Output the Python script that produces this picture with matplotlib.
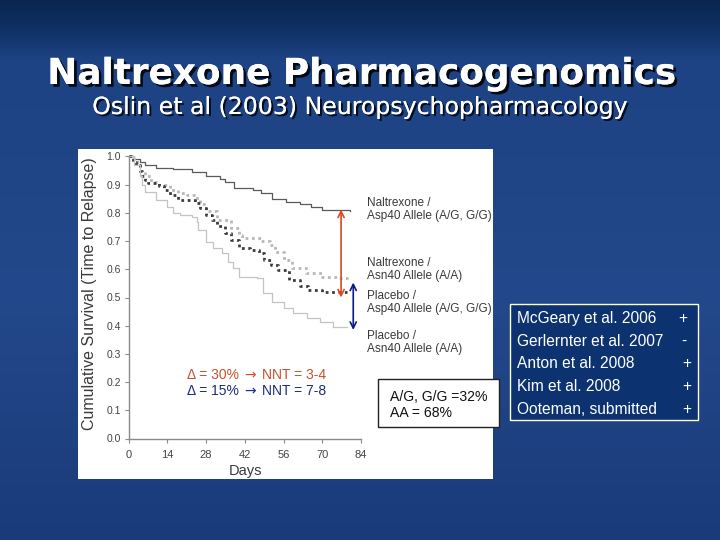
import matplotlib
matplotlib.use('Agg')
import matplotlib.pyplot as plt
import matplotlib.patheffects as pe
from matplotlib.patches import Rectangle
import numpy as np

# ---------------- data ----------------
day_ticks = [0, 14, 28, 42, 56, 70, 84]
surv_ticks = [0.0, 0.1, 0.2, 0.3, 0.4, 0.5, 0.6, 0.7, 0.8, 0.9, 1.0]

nal_asp40_days = [0, 2, 4, 6, 10, 16, 23, 28, 33, 35, 38, 45, 48, 52, 57, 62, 66, 70, 80]
nal_asp40_surv = [1.0, 0.99, 0.98, 0.97, 0.96, 0.955, 0.946, 0.93, 0.92, 0.91, 0.89, 0.88,
                  0.87, 0.85, 0.84, 0.83, 0.82, 0.81, 0.805]

nal_asn40_days = [0, 2, 4, 6, 8, 11, 15, 18, 21, 24, 26, 28, 32, 37, 40, 41, 48, 51, 53,
                  56, 59, 64, 70, 76, 79]
nal_asn40_surv = [1.0, 0.98, 0.95, 0.93, 0.91, 0.90, 0.88, 0.87, 0.865, 0.853, 0.83, 0.806,
                  0.776, 0.746, 0.72, 0.711, 0.70, 0.687, 0.66, 0.633, 0.605, 0.586, 0.574,
                  0.569, 0.565]

pla_asp40_days = [0, 1.5, 2.7, 4, 5, 6, 7, 11, 13, 15, 18, 22, 24, 26, 28, 30, 32, 35, 37,
                  40, 44, 47, 49, 51.5, 54, 58, 62, 65, 70, 79]
pla_asp40_surv = [1.0, 0.98, 0.97, 0.95, 0.93, 0.915, 0.905, 0.895, 0.882, 0.865, 0.847,
                  0.845, 0.835, 0.817, 0.794, 0.776, 0.753, 0.729, 0.705, 0.675, 0.668,
                  0.658, 0.634, 0.616, 0.599, 0.562, 0.54, 0.527, 0.52, 0.518]

pla_asn40_days = [0, 2, 4, 5, 6, 10, 14, 16, 18.6, 23, 24.8, 25, 28, 30.6, 33.8, 36, 37.8,
                  40, 46.5, 48.7, 52, 56, 59.5, 64.6, 69.3, 74, 79]
pla_asn40_surv = [1.0, 0.97, 0.93, 0.90, 0.875, 0.846, 0.822, 0.80, 0.793, 0.787, 0.769,
                  0.739, 0.698, 0.675, 0.658, 0.627, 0.605, 0.574, 0.569, 0.516, 0.485,
                  0.463, 0.445, 0.427, 0.414, 0.396, 0.395]

curve_labels = ["Naltrexone /\nAsp40 Allele (A/G, G/G)",
                "Naltrexone /\nAsn40 Allele (A/A)",
                "Placebo /\nAsp40 Allele (A/G, G/G)",
                "Placebo /\nAsn40 Allele (A/A)"]

nnt_deltas = ["Δ = 30%", "Δ = 15%"]
nnt_values = ["NNT = 3-4", "NNT = 7-8"]

studies = ["McGeary et al. 2006", "Gerlernter et al. 2007", "Anton et al. 2008",
           "Kim et al. 2008", "Ooteman, submitted"]
study_signs = ["+", "-", "+", "+", "+"]

# ---------------- layout helpers ----------------
W, H = 720, 540
def fx(x): return x / W
def fy(y): return 1 - y / H

fig = plt.figure(figsize=(7.2, 5.4), dpi=100)

# background gradient
bg = fig.add_axes([0, 0, 1, 1], zorder=-10)
stops_y = [0, 25, 60, 300, 540]
stops_c = ['#0a2650', '#0e2f62', '#1e4384', '#23488b', '#1a3b7a']
rgb = np.array([matplotlib.colors.to_rgb(c) for c in stops_c])
yy = np.arange(H)
grad = np.stack([np.interp(yy, stops_y, rgb[:, k]) for k in range(3)], axis=-1)
grad = np.repeat(grad[:, None, :], 4, axis=1)
bg.imshow(grad, aspect='auto', extent=[0, 1, 0, 1], interpolation='bilinear')
bg.set_axis_off()

# white chart panel
fig.add_artist(Rectangle((fx(78), fy(479)), (493 - 78) / W, (479 - 149) / H,
                         transform=fig.transFigure, facecolor='white',
                         edgecolor='none', zorder=-5))

# title
shadow = [pe.withSimplePatchShadow(offset=(2, -2), shadow_rgbFace='black', alpha=0.85),
          pe.Normal()]
fig.text(fx(362), fy(74), "Naltrexone Pharmacogenomics", ha='center', va='center',
         color='white', fontsize=25.8, fontweight='bold', family='DejaVu Sans',
         path_effects=shadow)
fig.text(fx(360), fy(107), "Oslin et al (2003) Neuropsychopharmacology", ha='center',
         va='center', color='white', fontsize=17, family='DejaVu Sans',
         path_effects=[pe.withSimplePatchShadow(offset=(1.5, -1.5), shadow_rgbFace='black',
                                                alpha=0.8), pe.Normal()])

# main axes
ax = fig.add_axes([fx(128.5), fy(438.5), (361 - 128.5) / W, (438.5 - 156.5) / H])
ax.set_facecolor('none')
ax.set_xlim(0, 84)
ax.set_ylim(0, 1.0)
for s in ['top', 'right']:
    ax.spines[s].set_visible(False)
for s in ['left', 'bottom']:
    ax.spines[s].set_color('#8a8a8a')
    ax.spines[s].set_linewidth(1.0)
ax.set_xticks(day_ticks)
ax.set_yticks(surv_ticks)
ax.set_yticklabels([f"{v:.1f}" for v in surv_ticks])
ax.tick_params(axis='both', colors='#8a8a8a', length=3, width=0.8, labelcolor='#444444')
ax.tick_params(axis='y', labelsize=7.5, pad=2.5)
ax.tick_params(axis='x', labelsize=8, pad=5)
for lab in ax.get_xticklabels() + ax.get_yticklabels():
    lab.set_family('Liberation Sans')

fig.text(fx(90), fy(294), "Cumulative Survival (Time to Relapse)", rotation=90,
         ha='center', va='center', fontsize=11.5, family='Liberation Sans', color='#3a3a3a')
fig.text(fx(245), fy(471), "Days", ha='center', va='center', fontsize=10.5,
         family='Liberation Sans', color='#3a3a3a')

ax.step(nal_asp40_days, nal_asp40_surv, where='post', color='#5a5a5a', lw=0.9,
        clip_on=False)
ax.step(nal_asn40_days, nal_asn40_surv, where='post', color='#b8b8b8', lw=2.0,
        linestyle=(0, (1, 1.3)), clip_on=False)
ax.step(pla_asp40_days, pla_asp40_surv, where='post', color='#3c3c3c', lw=2.0,
        linestyle=(0, (1, 1.3)), clip_on=False)
ax.step(pla_asn40_days, pla_asn40_surv, where='post', color='#c4c4c4', lw=0.9,
        clip_on=False)

# difference arrows
ax.annotate('', xy=(76.8, 0.812), xytext=(76.8, 0.50),
            arrowprops=dict(arrowstyle='<->', color='#d9491e', lw=1.2,
                            mutation_scale=11, shrinkA=0, shrinkB=0),
            annotation_clip=False)
ax.annotate('', xy=(81.2, 0.553), xytext=(81.2, 0.385),
            arrowprops=dict(arrowstyle='<->', color='#0b1a88', lw=1.2,
                            mutation_scale=11, shrinkA=0, shrinkB=0),
            annotation_clip=False)

# curve labels
label_y = [209.5, 269.5, 302.5, 342.5]
for lab, y in zip(curve_labels, label_y):
    fig.text(fx(367), fy(y), lab, ha='left', va='center', fontsize=8.5,
             family='Liberation Sans', color='#3a3a3a', linespacing=1.15)

# NNT notes
nnt_colors = ['#cc4f2a', '#1c2a80']
nnt_y = [375, 391]
for d, v, c, y in zip(nnt_deltas, nnt_values, nnt_colors, nnt_y):
    fig.text(fx(187), fy(y), d, ha='left', va='center', fontsize=10,
             family='Liberation Sans', color=c)
    fig.text(fx(250), fy(y), "→", ha='center', va='center', fontsize=10,
             family='DejaVu Sans', color=c)
    fig.text(fx(262), fy(y), v, ha='left', va='center', fontsize=10,
             family='Liberation Sans', color=c)

# genotype box
fig.add_artist(Rectangle((fx(378), fy(427)), (499 - 378) / W, (427 - 379) / H,
                         transform=fig.transFigure, facecolor='white',
                         edgecolor='#222222', lw=1.0, zorder=2))
fig.text(fx(390), fy(397), "A/G, G/G =32%", ha='left', va='center', fontsize=10.1,
         family='Liberation Sans', color='#111111', zorder=3)
fig.text(fx(390), fy(413), "AA = 68%", ha='left', va='center', fontsize=10.1,
         family='Liberation Sans', color='#111111', zorder=3)

# studies box
fig.add_artist(Rectangle((fx(510), fy(420)), (698 - 510) / W, (420 - 304) / H,
                         transform=fig.transFigure, facecolor='#0c3370',
                         edgecolor='white', lw=1.0, zorder=2))
row_y = [317, 340, 362, 385, 408]
sign_x = [683, 684, 687, 687, 687]
for name, sign, y, sx in zip(studies, study_signs, row_y, sign_x):
    fig.text(fx(517), fy(y + 5.6), name, ha='left', va='baseline', fontsize=11.2,
             family='Liberation Sans', color='white', zorder=3)
    fig.text(fx(sx), fy(y + 5.6), sign, ha='center', va='baseline', fontsize=11.2,
             family='Liberation Sans', color='white', zorder=3)

fig.savefig('out.png', dpi=100)
